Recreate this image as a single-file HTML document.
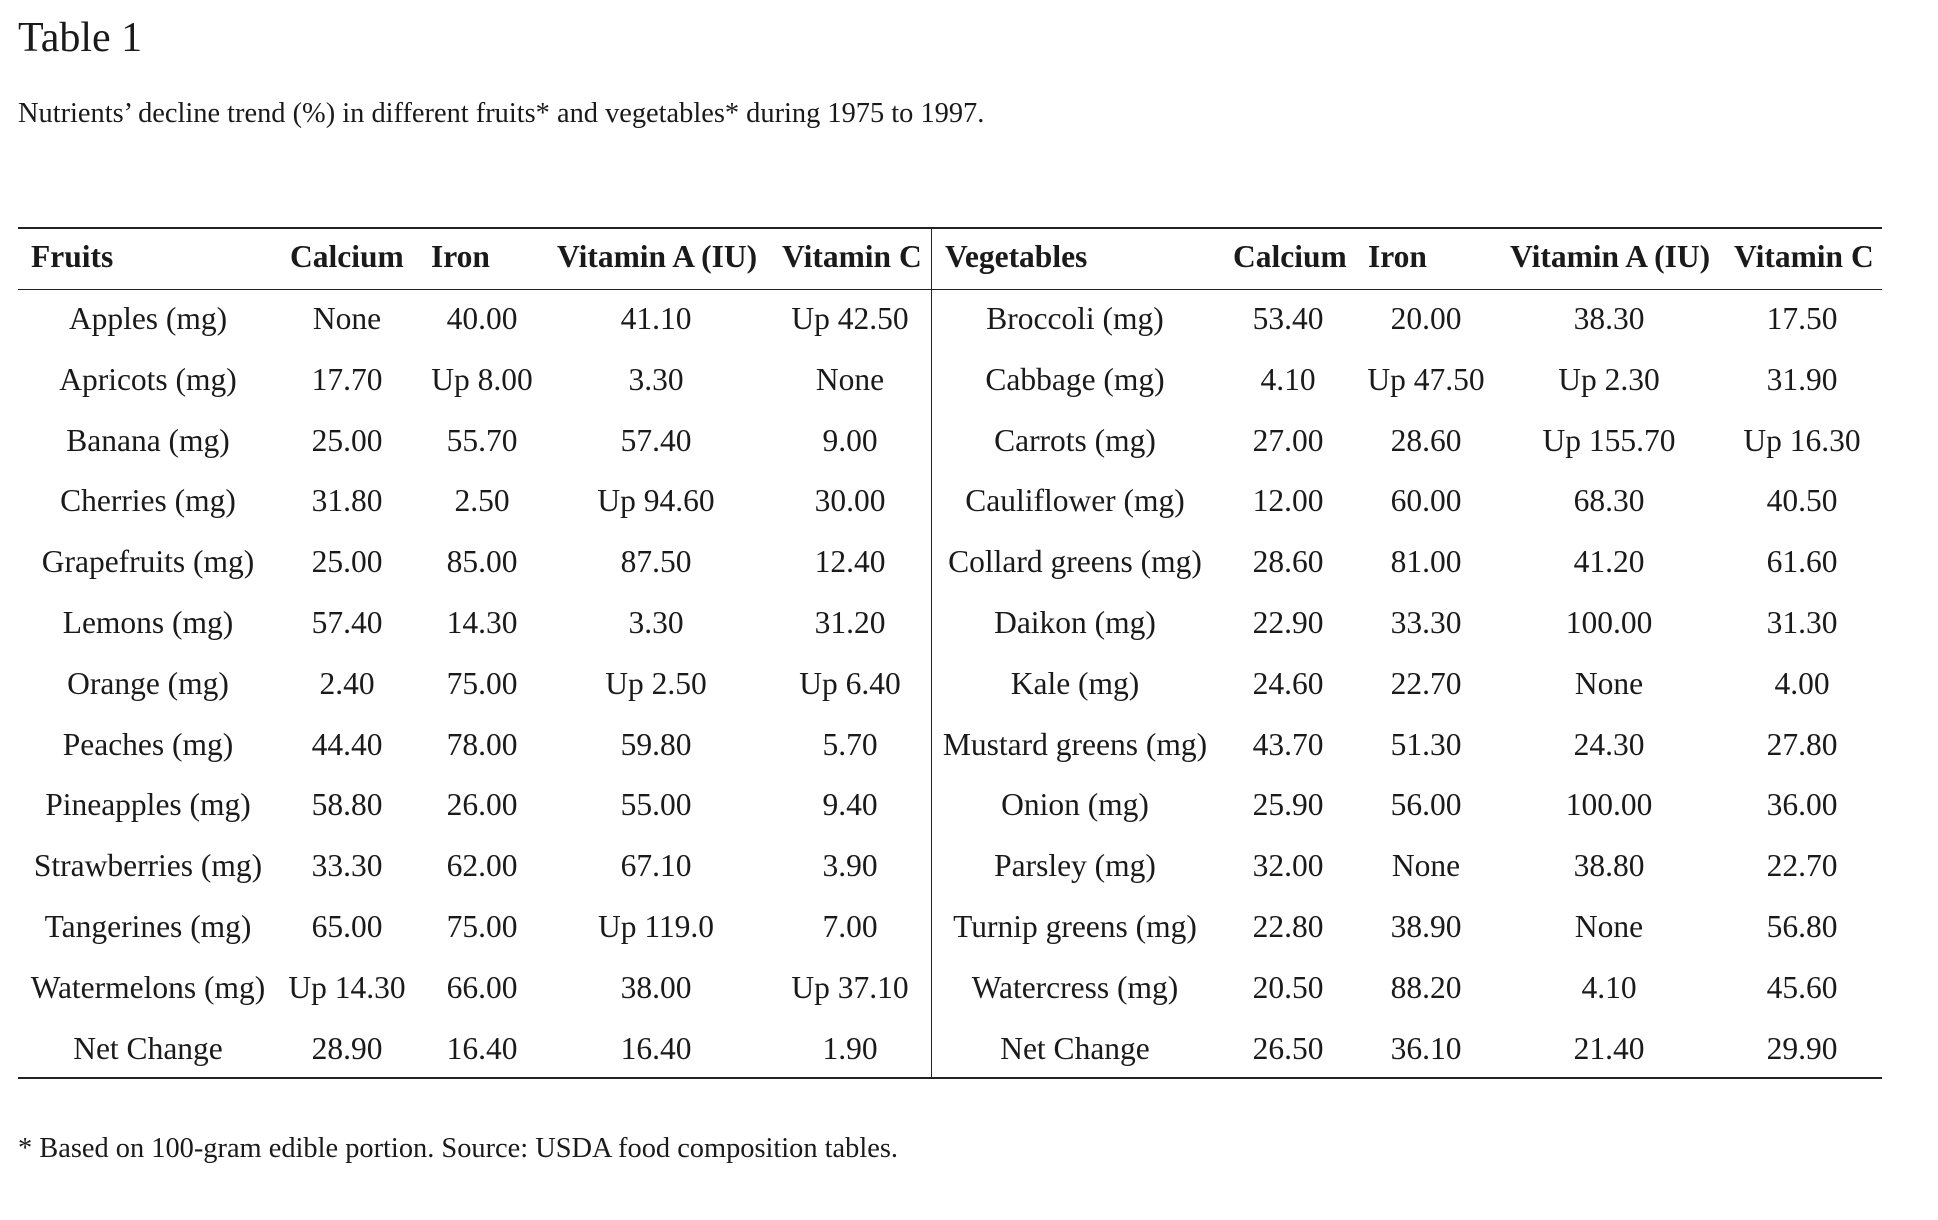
<!DOCTYPE html>
<html><head><meta charset="utf-8"><style>
body{margin:0;width:1938px;height:1220px;background:#fff;font-family:"Liberation Serif",serif;color:#1a1a1a;position:relative;overflow:hidden}
.a{position:absolute;white-space:nowrap}
.t{position:absolute;white-space:nowrap;font-size:31.5px;transform:translate(-50%,-50%)}
.h{position:absolute;white-space:nowrap;font-size:31.5px;font-weight:bold;transform:translateY(-50%)}
.ln{position:absolute;background:#222}
</style></head><body>
<div class="a" style="left:18px;top:14px;font-size:42px">Table 1</div>
<div class="a" style="left:18px;top:98px;font-size:28.4px">Nutrients’ decline trend (%) in different fruits* and vegetables* during 1975 to 1997.</div>
<div class="ln" style="left:18px;top:227px;width:1864px;height:2px"></div>
<div class="ln" style="left:18px;top:289px;width:1864px;height:1px"></div>
<div class="ln" style="left:18px;top:1077px;width:1864px;height:2px"></div>
<div class="ln" style="left:931px;top:227px;width:1px;height:851px"></div>
<div class="a" style="left:18px;top:1133px;font-size:28.4px">* Based on 100-gram edible portion. Source: USDA food composition tables.</div>
<div id="c"></div>
<script>
var H=[["Fruits",31],["Calcium",290],["Iron",431],["Vitamin A (IU)",557],["Vitamin C",782],["Vegetables",945],["Calcium",1233],["Iron",1368],["Vitamin A (IU)",1510],["Vitamin C",1734]];
var X=[148,347,482,656,850,1075,1288,1426,1609,1802];
var R=[
["Apples (mg)","None","40.00","41.10","Up 42.50","Broccoli (mg)","53.40","20.00","38.30","17.50"],
["Apricots (mg)","17.70","Up 8.00","3.30","None","Cabbage (mg)","4.10","Up 47.50","Up 2.30","31.90"],
["Banana (mg)","25.00","55.70","57.40","9.00","Carrots (mg)","27.00","28.60","Up 155.70","Up 16.30"],
["Cherries (mg)","31.80","2.50","Up 94.60","30.00","Cauliflower (mg)","12.00","60.00","68.30","40.50"],
["Grapefruits (mg)","25.00","85.00","87.50","12.40","Collard greens (mg)","28.60","81.00","41.20","61.60"],
["Lemons (mg)","57.40","14.30","3.30","31.20","Daikon (mg)","22.90","33.30","100.00","31.30"],
["Orange (mg)","2.40","75.00","Up 2.50","Up 6.40","Kale (mg)","24.60","22.70","None","4.00"],
["Peaches (mg)","44.40","78.00","59.80","5.70","Mustard greens (mg)","43.70","51.30","24.30","27.80"],
["Pineapples (mg)","58.80","26.00","55.00","9.40","Onion (mg)","25.90","56.00","100.00","36.00"],
["Strawberries (mg)","33.30","62.00","67.10","3.90","Parsley (mg)","32.00","None","38.80","22.70"],
["Tangerines (mg)","65.00","75.00","Up 119.0","7.00","Turnip greens (mg)","22.80","38.90","None","56.80"],
["Watermelons (mg)","Up 14.30","66.00","38.00","Up 37.10","Watercress (mg)","20.50","88.20","4.10","45.60"],
["Net Change","28.90","16.40","16.40","1.90","Net Change","26.50","36.10","21.40","29.90"]];
var s="";
H.forEach(function(h){s+='<div class="h" style="left:'+h[1]+'px;top:257px">'+h[0]+'</div>';});
R.forEach(function(r,i){var y=319+i*60.8;r.forEach(function(v,j){s+='<div class="t" style="left:'+X[j]+'px;top:'+y+'px">'+v+'</div>';});});
document.getElementById("c").innerHTML=s;
</script>
</body></html>
